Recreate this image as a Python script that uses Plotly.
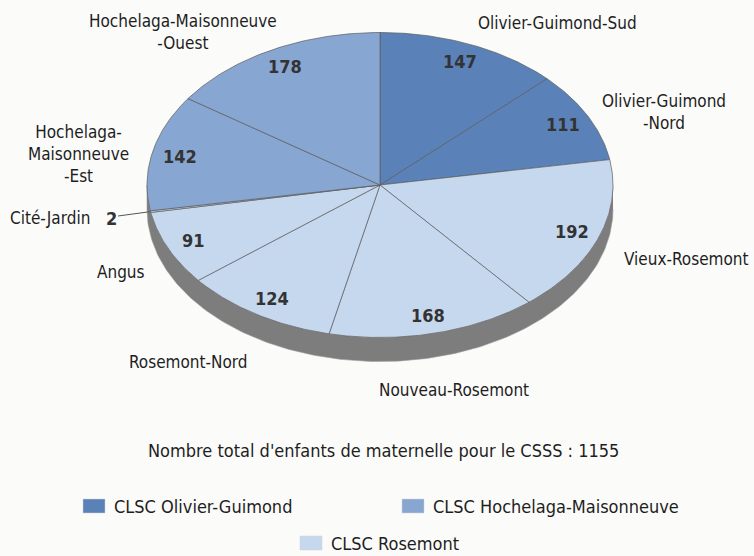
import numpy as np
import plotly.graph_objects as go

# ---------------- data ----------------
categories = ["Olivier-Guimond-Sud", "Olivier-Guimond-Nord", "Vieux-Rosemont",
              "Nouveau-Rosemont", "Rosemont-Nord", "Angus", "Cité-Jardin",
              "Hochelaga-Maisonneuve-Est", "Hochelaga-Maisonneuve-Ouest"]
values = [147, 111, 192, 168, 124, 91, 2, 142, 178]
groups = ["Olivier-Guimond", "Olivier-Guimond", "Rosemont", "Rosemont", "Rosemont",
          "Rosemont", "Rosemont", "Hochelaga-Maisonneuve", "Hochelaga-Maisonneuve"]
group_keys = ["Olivier-Guimond", "Hochelaga-Maisonneuve", "Rosemont"]
group_names = ["CLSC Olivier-Guimond", "CLSC Hochelaga-Maisonneuve", "CLSC Rosemont"]
total_label = "Nombre total d'enfants de maternelle pour le CSSS : 1155"

# ---------------- styles / layout ----------------
group_colors = {"Olivier-Guimond": "#5a82b9",
                "Hochelaga-Maisonneuve": "#87a6d2",
                "Rosemont": "#c6d8ee"}
FONT = "Liberation Sans Narrow, Arial Narrow, DejaVu Sans Condensed, sans-serif"
TXT = "#1e1e1e"
BG = "#fbfbfa"
W, H = 754, 556
CX, CY, RX, RY, DEPTH = 380, 185, 233, 152.5, 24

# outside label placement (pixel centers), one entry per category
label_text = ["Olivier-Guimond-Sud", "Olivier-Guimond<br>-Nord", "Vieux-Rosemont",
              "Nouveau-Rosemont", "Rosemont-Nord", "Angus", "Cité-Jardin",
              "Hochelaga-<br>Maisonneuve<br>-Est", "Hochelaga-Maisonneuve<br>-Ouest"]
label_pos = [(557, 23), (664, 112), (686, 259), (454, 390), (188, 362),
             (121, 272), (50, 218), (78, 154), (183, 32)]


def ell(theta_deg, scale=1.0, dy=0.0):
    t = np.radians(theta_deg)
    return CX + scale * RX * np.sin(t), CY - scale * RY * np.cos(t) + dy


fig = go.Figure()

# side (thickness) of the tilted pie
th_f = np.linspace(90, 270, 181)
xs_top, ys_top = ell(th_f)
xs_bot, ys_bot = ell(th_f[::-1], dy=DEPTH)
fig.add_trace(go.Scatter(x=np.concatenate([xs_top, xs_bot]),
                         y=np.concatenate([ys_top, ys_bot]),
                         fill="toself", fillcolor="#7d7d7d", mode="lines",
                         line=dict(color="#9a9a9a", width=0.6),
                         hoverinfo="skip", showlegend=False))

# top surface wedges
total = sum(values)
cum = np.cumsum([0] + values)
angles = cum / total * 360.0
for i, v in enumerate(values):
    a0, a1 = angles[i], angles[i + 1]
    n = max(3, int(abs(a1 - a0) * 2))
    th = np.linspace(a0, a1, n)
    ax_, ay_ = ell(th)
    xs = np.concatenate([[CX], ax_, [CX]])
    ys = np.concatenate([[CY], ay_, [CY]])
    fig.add_trace(go.Scatter(x=xs, y=ys, fill="toself",
                             fillcolor=group_colors[groups[i]], mode="lines",
                             line=dict(color="#5c5c5c", width=0.7),
                             name=categories[i], text=f"{categories[i]}: {v}",
                             hoverinfo="text", showlegend=False))

annotations = []
# value labels inside the wedges
for i, v in enumerate(values):
    mid = (angles[i] + angles[i + 1]) / 2
    if v / total < 0.01:
        continue
    x, y = ell(mid, scale=0.88)
    annotations.append(dict(x=x, y=y, text=f"<b>{v}</b>", showarrow=False,
                            font=dict(family=FONT, size=18, color="#333333"),
                            xanchor="center", yanchor="middle"))

# category labels outside
for i, name in enumerate(label_text):
    x, y = label_pos[i]
    annotations.append(dict(x=x, y=y, text=name, showarrow=False,
                            font=dict(family=FONT, size=17, color=TXT),
                            xanchor="center", yanchor="middle", align="center"))
    if values[i] / total < 0.01:
        # tiny slice: value shown next to its name, with a leader line
        annotations.append(dict(x=x + 61, y=y, text=f"<b>{values[i]}</b>",
                                showarrow=False,
                                font=dict(family=FONT, size=18, color="#333333"),
                                xanchor="center", yanchor="middle"))
        mid = (angles[i] + angles[i + 1]) / 2
        ex, ey = ell(mid)
        fig.add_trace(go.Scatter(x=[x + 68, ex], y=[y - 2, ey], mode="lines",
                                 line=dict(color="#555555", width=1),
                                 hoverinfo="skip", showlegend=False))

# total
annotations.append(dict(x=383, y=450, text=total_label, showarrow=False,
                        font=dict(family=FONT, size=18, color=TXT),
                        xanchor="center", yanchor="middle"))

# legend
legend_pos = [(94, 506), (413, 506), (311, 543)]
shapes = []
for k, key in enumerate(group_keys):
    x, y = legend_pos[k]
    shapes.append(dict(type="rect", xref="x", yref="y", x0=x - 11, x1=x + 11,
                       y0=y - 7, y1=y + 7, fillcolor=group_colors[key],
                       line=dict(color="#d0d0d0", width=0.5)))
    annotations.append(dict(x=x + 18, y=y, text=group_names[k], showarrow=False,
                            font=dict(family=FONT, size=18, color=TXT),
                            xanchor="left", yanchor="middle"))

fig.update_layout(width=W, height=H, margin=dict(l=0, r=0, t=0, b=0),
                  paper_bgcolor=BG, plot_bgcolor=BG,
                  xaxis=dict(range=[0, W], visible=False, fixedrange=True),
                  yaxis=dict(range=[H, 0], visible=False, fixedrange=True),
                  annotations=annotations, shapes=shapes, showlegend=False)

fig.write_html("out.html",
               config={"displayModeBar": False},
               post_script="document.body.style.margin='0';"
                           "document.body.style.overflow='hidden';"
                           "document.body.style.background='" + BG + "';")
